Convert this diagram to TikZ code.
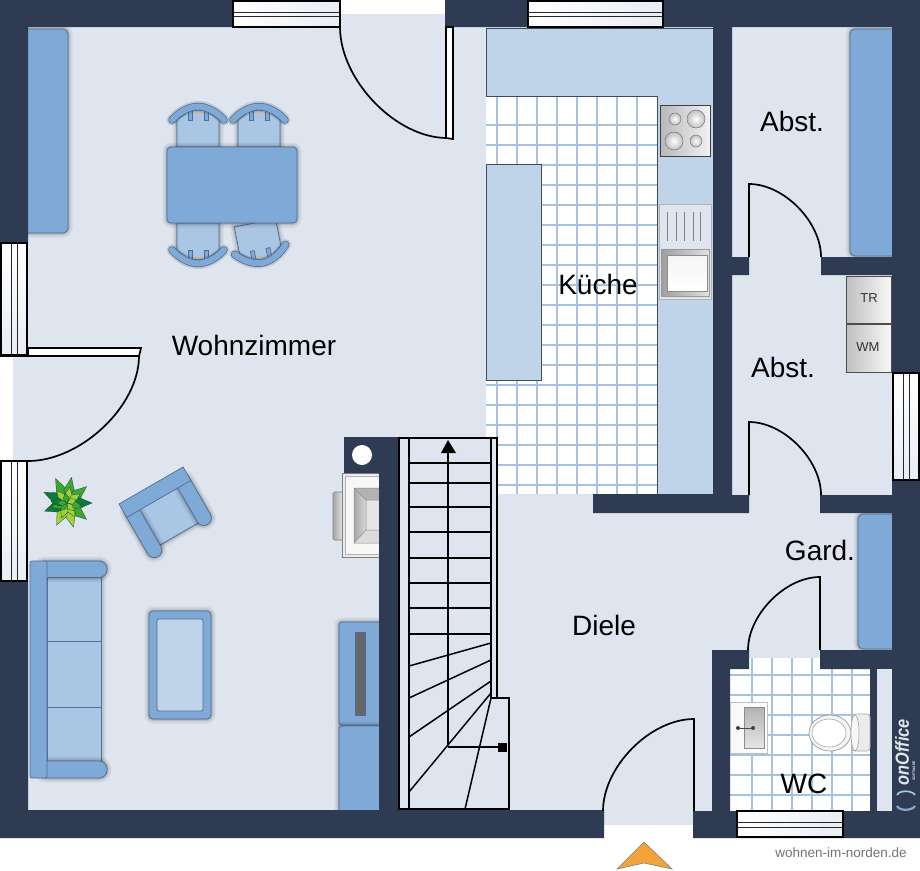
\documentclass[tikz,border=0pt]{standalone}
\usepackage{fontspec}
\setmainfont{Liberation Sans}
\usetikzlibrary{shapes.geometric}
\definecolor{wallc}{HTML}{2E3B52}
\definecolor{floorc}{HTML}{DEE5EF}
\definecolor{counterc}{HTML}{BFD3E9}
\definecolor{furn}{HTML}{7FA9D6}
\definecolor{seatc}{HTML}{A9C6E4}
\definecolor{edgec}{HTML}{4F6E94}
\definecolor{tilec}{HTML}{A5C3DE}
\definecolor{lineslate}{HTML}{3B4C63}
\definecolor{arrowc}{HTML}{F2A33A}
\definecolor{leafdark}{HTML}{0F7A3C}
\definecolor{leafmid}{HTML}{3FA535}
\definecolor{leaflime}{HTML}{A3CF3C}
\tikzset{
  x=1pt,y=-1pt,
  wallfill/.style={fill=wallc,draw=none},
  windowbox/.style={draw=black,line width=1.6pt,left color=white,right color=floorc!70!white},
  windowboxv/.style={draw=black,line width=1.6pt,top color=white,bottom color=floorc!70!white},
  windowbar/.style={draw=black!85,line width=1pt},
  doorline/.style={draw=black,line width=1.7pt,line join=miter},
  roomlabel/.style={font=\fontsize{28}{30}\selectfont,text=black,inner sep=0pt},
  smalllabel/.style={font=\fontsize{13}{15}\selectfont,text=black!80,inner sep=0pt},
  halo/.style={preaction={draw=black,draw opacity=.06,line width=9pt,line join=round},preaction={draw=black,draw opacity=.08,line width=5pt,line join=round},preaction={draw=black,draw opacity=.12,line width=2.5pt,line join=round}},
  furniture/.style={fill=furn,draw=edgec,line width=.7pt},
  seatpart/.style={fill=seatc,draw=edgec,line width=.7pt},
  counterpart/.style={fill=counterc,draw=lineslate,line width=.8pt},
  tilegrid/.style={draw=tilec,line width=1.100pt},
  stairline/.style={draw=black,line width=1.5pt},
  burner/.style={draw=black!55,line width=.5pt,inner color=white,outer color=black!25},
  applianceb/.style={draw=black!70,line width=.9pt,left color=black!25,right color=black!3},
  leaf/.style={draw=leafdark!70!black,line width=.3pt},
  chair/.pic={
    \path[seatpart,halo] (-21,0) -- (-21,-27) .. controls (-14,-33) and (-7,-37) .. (0,-37) .. controls (7,-37) and (14,-33) .. (21,-27) -- (21,0) -- cycle;
    \path[fill=black!25] (-13,-36) -- (13,-36) -- (13,-33) -- (-13,-33) -- cycle;
    \path[furniture] (-10,-38) rectangle (-6,-27);
    \path[furniture] (10,-38) rectangle (6,-27);
    \draw[black,draw opacity=.12,line width=11pt,line cap=round] (-26,-27) .. controls (-18,-36) and (-8,-40.500) .. (0,-40.500) .. controls (8,-40.500) and (18,-36) .. (26,-27);
    \draw[edgec,line width=7.500pt,line cap=round] (-26,-27) .. controls (-18,-36) and (-8,-40.500) .. (0,-40.500) .. controls (8,-40.500) and (18,-36) .. (26,-27);
    \draw[furn,line width=6pt,line cap=round] (-26,-27) .. controls (-18,-36) and (-8,-40.500) .. (0,-40.500) .. controls (8,-40.500) and (18,-36) .. (26,-27);
  }
}
\begin{document}
\begin{tikzpicture}
\useasboundingbox (0,0) rectangle (920,870);
\fill[white] (0,0) rectangle (920,870);
% floor
\fill[floorc] (13,14) rectangle (892,825);
% kitchen tiles
\fill[white] (486,96) rectangle (657,494);
\foreach \gx in {497,517,...,637} \draw[tilegrid] (\gx,97) -- (\gx,494);
\foreach \gy in {125,145,...,485} \draw[tilegrid] (486,\gy) -- (657,\gy);
% kitchen counters
\path[counterpart] (486,28) -- (713,28) -- (713,494) -- (657,494) -- (657,96) -- (486,96) -- cycle;
\path[counterpart] (486,164) rectangle (541,380);
% WC tiles
\fill[white] (730,668) rectangle (870,811);
\fill[white] (749,658) rectangle (820,668);
\foreach \gx in {752,772,...,852} \draw[tilegrid] (\gx,658) -- (\gx,811);
\foreach \gy in {675,695,...,795} \draw[tilegrid] (730,\gy) -- (870,\gy);
% shelves (their far sides run under the walls)
\path[furniture,halo,rounded corners=5pt] (15,29) rectangle (68,233);
\path[furniture,halo,rounded corners=5pt] (850,29) rectangle (905,256);
\path[furniture,halo,rounded corners=5pt] (858,514) rectangle (905,649);
% chairs and table
\pic at (198,147) {chair};
\pic at (259,147) {chair};
\pic[yscale=-1] at (198,223) {chair};
\pic[rotate=11,yscale=-1] at (255,223) {chair};
\path[furniture,halo,rounded corners=4pt] (167,147) rectangle (297,223);
% plant
\begin{scope}[shift={(67,503)}]
  \foreach \ang/\len/\lc in {155/1.020/leafdark,115/1.080/leafmid,80/1.040/leafmid,40/1.020/leafmid,0/1/leafdark,-40/1.020/leafmid,-75/1/leaflime,-115/.980/leaflime,-160/.950/leafdark}
    \path[leaf,fill=\lc,rotate=\ang] (0,0) -- (12*\len,-5.500) -- (25*\len,0) -- (12*\len,5.500) -- cycle;
  \foreach \ang/\lc in {130/leaflime,80/leaflime,35/leaflime,-15/leafmid,-60/leaflime,-110/leaflime,-165/leafmid,175/leafdark}
    \path[leaf,fill=\lc,rotate=\ang] (0,0) -- (8,-4) -- (16,0) -- (8,4) -- cycle;
  \foreach \ang/\lc in {100/leafmid,20/leaflime,-50/leaflime,-130/leafmid,-180/leafmid}
    \path[leaf,fill=\lc,rotate=\ang] (0,0) -- (5,-3) -- (10,0) -- (5,3) -- cycle;
\end{scope}
% sofa
\path[seatpart,halo] (47,577) rectangle (101,761);
\draw[edgec,line width=.7pt] (47,641) -- (101,641) (47,707) -- (101,707);
\path[furniture,halo,rounded corners=8pt] (38,561) rectangle (107,577.500);
\path[furniture,halo,rounded corners=8pt] (38,761) rectangle (107,778);
\path[furniture,rounded corners=2pt] (30,561) rectangle (47,778);
% coffee table
\path[furniture,halo,rounded corners=4pt] (149,611) rectangle (211,719);
\path[fill=counterc,draw=edgec,line width=.7pt,rounded corners=2pt] (157,619) rectangle (203,711);
% armchair
\begin{scope}[shift={(119,504)},rotate=30]
  \path[seatpart,halo] (14,11) rectangle (61,56);
  \path[furniture,halo,rounded corners=7.400pt] (0,5) rectangle (15,65);
  \path[furniture,halo,rounded corners=7.400pt] (59,5) rectangle (74,62);
  \path[furniture] (0,0) rectangle (74,15.500);
\end{scope}
% cabinet
\path[furniture,halo,rounded corners=3pt] (339,622) rectangle (390,725);
\path[furniture,halo,rounded corners=3pt] (339,726) rectangle (390,815);
\path[fill=black!60,draw=edgec,line width=.5pt] (355,632) rectangle (365,715);
% fireplace appliance
\path[draw=black!50,line width=.6pt,left color=black!35,right color=black!5,rounded corners=1.500pt] (333,492) rectangle (345,540);
\path[draw=black!50,line width=.7pt,fill=black!8] (342,473) rectangle (379,557);
\path[draw=black!30,line width=.4pt,fill=black!3] (345,476) rectangle (379,554);
\path[fill=black!30] (354,488) -- (379,488) -- (379,500) -- (366,500) -- cycle;
\path[left color=black!35,right color=black!15] (354,488) -- (366,500) -- (366,530) -- (354,543) -- cycle;
\path[fill=black!14] (354,543) -- (366,530) -- (379,530) -- (379,543) -- cycle;
\path[fill=black!10] (366,500) rectangle (379,530);
\draw[black!45,line width=.5pt] (379,488) -- (354,488) -- (354,543) -- (379,543) (354,488) -- (366,500) -- (379,500) (354,543) -- (366,530) -- (379,530) (366,500) -- (366,530);
% walls
\path[wallfill] (0,0) -- (340,0) -- (340,27) -- (28,27) -- (28,243) -- (0,243) -- cycle;
\path[wallfill] (445,0) -- (920,0) -- (920,838) -- (693,838) -- (693,811) -- (712,811) -- (712,650) -- (749,650) -- (749,669) -- (730,669) -- (730,811) -- (870,811) -- (870,669) -- (820,669) -- (820,650) -- (892,650) -- (892,513) -- (820,513) -- (820,495) -- (892,495) -- (892,275) -- (821,275) -- (821,257) -- (892,257) -- (892,27) -- (732,27) -- (732,257) -- (749,257) -- (749,275) -- (732,275) -- (732,495) -- (749,495) -- (749,513) -- (593,513) -- (593,494) -- (713,494) -- (713,27) -- (445,27) -- cycle;
\path[wallfill] (0,580) -- (28,580) -- (28,810) -- (344,810) -- (379,810) -- (379,473) -- (344,473) -- (344,437) -- (399,437) -- (399,810) -- (604,810) -- (604,838) -- (0,838) -- cycle;
\fill[floorc] (877,669) rectangle (892,811);
\fill[wallc] (870,811) rectangle (892,838);
\fill[white] (362,455) circle[radius=10];
% windows
\path[windowbox] (233,1) rectangle (340,27);
\draw[windowbar] (233,12) -- (340,12) (233,16) -- (340,16);
\path[windowbox] (528,1) rectangle (663,27);
\draw[windowbar] (528,12) -- (663,12) (528,16) -- (663,16);
\path[windowbox] (737,811) rectangle (843,837);
\draw[windowbar] (737,822) -- (843,822) (737,827) -- (843,827);
\path[windowboxv] (1,243) rectangle (27,355);
\draw[windowbar] (11,243) -- (11,355) (17,243) -- (17,355);
\path[windowboxv] (1,461) rectangle (27,581);
\draw[windowbar] (11,461) -- (11,581) (17,461) -- (17,581);
\path[windowboxv] (893,373) rectangle (919,480);
\draw[windowbar] (903,373) -- (903,480) (909,373) -- (909,480);
% doors
\path[fill=white,doorline] (446,27) -- (453,27) -- (453,139) -- (446,138) -- cycle;
\draw[doorline] (340,27) .. controls (340,80) and (396,138) .. (447,138);
\path[fill=white,doorline] (28,348) -- (141,348) -- (139,356) -- (28,356) -- cycle;
\draw[doorline] (139,356) .. controls (139,406) and (81,461) .. (28,461);
\draw[doorline] (0,356) -- (28,356);
\draw[doorline] (749,257) -- (749,184) .. controls (784,184) and (821,222) .. (821,257);
\draw[doorline] (749,495) -- (749,422) .. controls (784,422) and (821,460) .. (821,495);
\draw[doorline] (820,650) -- (820,577) .. controls (785,577) and (748,615) .. (748,650);
\draw[doorline] (694,811) -- (694,719) .. controls (650,719) and (603,767) .. (603,811);
% cooktop
\path[draw=black!75,line width=.8pt,left color=black!28,right color=black!5] (660,105) rectangle (710,156);
\path[burner] (675,119) circle[radius=6];
\path[burner] (696,119) circle[radius=9];
\path[burner] (674,141) circle[radius=9];
\path[burner] (696,141) circle[radius=6];
% sink
\path[draw=black!30,line width=.6pt,fill=floorc] (659,204) rectangle (711,299);
\foreach \sx in {667,676,684,693,700} \draw[black!50,line width=1pt] (\sx,212) -- (\sx,241);
\path[draw=black!40,line width=.5pt,left color=black!38,right color=black!12] (661,249) rectangle (709,296);
\path[draw=black!45,line width=.6pt,top color=black!4,bottom color=white] (667,255) rectangle (707,291);
% appliances
\path[applianceb] (846,276) rectangle (891,323);
\path[applianceb] (846,324) rectangle (891,372);
% WC fittings
\path[draw=black!25,line width=.6pt,left color=black!3,right color=white] (730,702) rectangle (767,753);
\path[draw=black!45,line width=.6pt,top color=black!30,bottom color=black!10] (744,707) rectangle (764,748);
\draw[black!70,line width=.8pt] (737,728) -- (753,728);
\fill[black!75] (738,728) circle[radius=2] (753,728) circle[radius=2];
\path[draw=black!35,line width=.6pt,fill=black!8,rounded corners=3pt] (852,714) rectangle (870,751);
\path[draw=black!40,line width=.7pt,fill=black!4] (830,733) ellipse[x radius=21,y radius=18];
\path[draw=black!40,line width=.5pt,fill=white] (829,733) ellipse[x radius=17,y radius=14];
\path[draw=black!40,line width=.5pt,fill=black!3] (855,733) ellipse[x radius=4,y radius=18];
% stairs
\path[fill=floorc] (399,438) rectangle (497,809);
\path[fill=floorc] (491,698) rectangle (509,809);
\draw[stairline] (491,698) -- (509,698) -- (509,809) -- (399,809) -- (399,438) -- (497,438) -- (497,698);
\draw[stairline] (409,438) -- (409,809) (491,438) -- (491,698);
\foreach \sy in {463,483,507,532,558,583,608,634} \draw[stairline] (409,\sy) -- (491,\sy);
\draw[stairline] (409,666) -- (491,643) (409,698) -- (491,660) (409,737) -- (491,681) (409,792) -- (491,693) (465,809) -- (491,698);
\draw[stairline] (448,747) -- (448,450) (448,747) -- (500,747);
\fill[black] (448,440) -- (456,453) -- (441,453) -- cycle;
\fill[black] (498,743) rectangle (507,752);
% arrow
\path[fill=arrowc,draw=black!50,line width=.6pt] (644,842) -- (672,869) -- (644,863) -- (617,869) -- cycle;
% texts
\node[roomlabel] (wohn) at (254,345) {Wohnzimmer};
\node[roomlabel] (kueche) at (598,284) {Küche};
\node[roomlabel] (abst1) at (792,121) {Abst.};
\node[roomlabel] (abst2) at (783,367) {Abst.};
\node[roomlabel] (gard) at (820,550) {Gard.};
\node[roomlabel] (diele) at (604,625) {Diele};
\node[roomlabel] (wc) at (804,784) {WC};
\node[smalllabel] (tr) at (869,298) {TR};
\node[smalllabel] (wm) at (868,347) {WM};
\node[font=\fontsize{13.500}{15}\selectfont,text=black!55,inner sep=0pt] (web) at (841,853) {wohnen-im-norden.de};
\node[font=\fontsize{19}{20}\selectfont\bfseries\itshape,text=floorc,inner sep=0pt,rotate=90] (logo) at (902,752) {\scalebox{.86}[1]{onOffice}};
\node[font=\fontsize{3.500}{4}\selectfont\bfseries,text=floorc,inner sep=0pt,rotate=90] (logosub) at (914,771) {SOFTWARE};
\draw[furn!70!white,line width=1.700pt] (897,795) .. controls (899,790) and (912,790) .. (915,795);
\draw[furn,line width=2.200pt] (897,806) .. controls (899,811) and (912,811) .. (915,806);
\end{tikzpicture}
\end{document}
